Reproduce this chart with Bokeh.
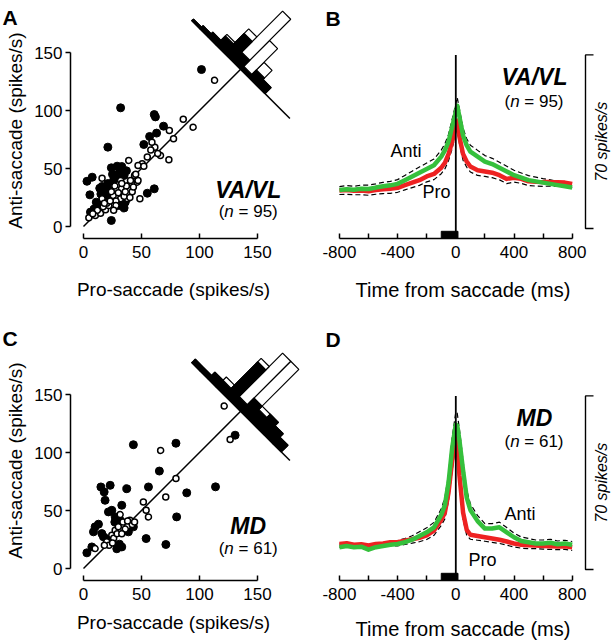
import numpy as np
from bokeh.plotting import figure
from bokeh.layouts import row, column
from bokeh.models import Range1d, Label, FixedTicker
from bokeh.embed import file_html
from bokeh.resources import INLINE

FONT = "Liberation Sans"
GREEN = "#35c03c"
RED = "#ee2222"

# ---------------- data ----------------
rate_ticks = [0, 50, 100, 150]
time_major_ticks = [-800, -400, 0, 400, 800]
time_minor_ticks = [-600, -200, 200, 600]
time_tick_text = {-800: "-800", -400: "-400", 0: "0", 400: "400", 800: "800"}

# scatter, VA/VL (filled = significant, open = not significant)
vavl_filled_pro = [101.7, 61, 62, 69, 63, 57, 52, 32, 21, 3, 7.5, 5.5, 24, 24, 33, 35, 31, 16, 20, 19, 23,
                   17, 21, 14, 9, 13, 6, 32, 36, 35, 29, 55, 61, 26, 29, 18, 11, 25, 22, 30, 37, 15]
vavl_filled_anti = [135.3, 96.5, 94.5, 86.5, 80.5, 77.6, 70.7, 102.3, 68.4, 39, 42.5, 27.3, 5.2, 50.6, 51.7,
                    44, 47, 34.5, 34, 29.6, 31, 30, 37, 33, 15, 18, 12.4, 18, 21, 16, 18, 28.7, 32.5, 40, 52,
                    26, 21, 45, 28, 44, 48, 28]
vavl_open_pro = [113, 94.5, 86, 77.6, 74, 61.5, 59, 66.4, 73.6, 46.3, 50.6, 40.5, 39, 47, 16, 32, 47, 32.8,
                 25.6, 32, 38, 48.6, 4.6, 10.3, 14.7, 19, 21.8, 16, 28, 35, 42, 27, 37, 44, 20, 12, 17, 8, 30,
                 24, 40, 55, 58, 64, 45, 52, 28, 36, 23, 18, 33, 43, 26]
vavl_open_anti = [126, 85.6, 92.5, 75.6, 82.8, 68.4, 72.7, 61.2, 57.5, 38.2, 54, 39.7, 57, 52.6, 41.7, 39.7,
                  39.7, 32.5, 26.7, 23.9, 23.9, 23.9, 7.5, 9.5, 11.5, 14.4, 18, 24, 22, 26, 30, 35, 35, 44, 20,
                  14, 17, 11, 29, 30, 25, 60, 66, 63, 45, 52, 18, 30, 22, 20, 37, 34, 14]

# scatter, MD
md_filled_pro = [43, 79.7, 65.4, 15, 17.8, 23, 37.3, 56, 18.6, 21.5, 24.4, 33, 80.3, 54, 71, 2.9, 7.2, 10,
                 12.9, 8.6, 15.8, 17.2, 19.5, 27.3, 31.6, 28.7, 33, 38.7, 43, 130.7, 113.8, 89, 31, 27]
md_filled_anti = [106.7, 108, 84, 70.3, 66, 71.7, 68.8, 70.3, 58.8, 48.8, 50.2, 54.5, 44.5, 25.8, 20.7, 13.5,
                  18.6, 35.9, 38.2, 31.6, 30.1, 27.3, 25.8, 44.5, 41.6, 17, 18.6, 31.6, 35.9, 114.9, 70.4,
                  65.2, 21, 40]
md_open_pro = [121.3, 126.4, 66.5, 79.7, 70.9, 51.6, 54, 56, 10, 20, 24.4, 27.3, 31.6, 40, 30, 37.9, 22, 26,
               34, 29, 36, 42, 33, 25, 18, 38, 44]
md_open_anti = [140, 111.2, 101.8, 77.5, 61.7, 57.4, 50.2, 44.5, 17.2, 23, 28.7, 33, 46.5, 41.6, 35.9, 36.4,
                20, 26, 40, 30, 34, 38, 30, 22, 20, 41, 40]

# histograms of (anti - pro), spikes/s
diff_bin_edges = [-84, -70, -56, -42, -28, -14, 0, 14, 28, 42, 56, 70, 84]
vavl_hist_all = [0, 0, 0, 4, 10, 19, 33, 16, 7, 3, 2, 1]
vavl_hist_sig = [0, 0, 0, 4, 5, 2, 6, 13, 6, 3, 2, 1]
md_hist_all = [0, 2, 3, 4, 4, 15, 15, 11, 3, 2, 1, 1]
md_hist_sig = [0, 2, 3, 4, 3, 4, 2, 10, 2, 2, 1, 1]

# population activity around saccade (spikes/s)
times = [-800, -750, -700, -650, -600, -550, -500, -450, -400, -350, -300, -250, -200, -150, -100, -75,
         -50, -25, 0, 10, 25, 50, 75, 100, 150, 200, 250, 300, 350, 400, 450, 500, 550, 600, 650, 700,
         750, 800]
vavl_anti = [15.5, 15.8, 15.6, 16.0, 15.9, 16.5, 17.0, 17.4, 18.0, 19.5, 21.0, 22.5, 24.0, 25.5, 29.0, 31.5,
             35.0, 41.0, 47.0, 49.5, 45.0, 37.5, 33.5, 31.0, 29.0, 27.0, 26.0, 24.5, 23.0, 21.5, 20.5, 19.5,
             19.0, 18.5, 18.0, 17.5, 17.0, 16.5]
vavl_pro = [15.3, 15.5, 15.2, 15.3, 15.0, 15.5, 15.8, 16.0, 16.4, 17.5, 18.5, 19.5, 21.0, 22.0, 24.5, 26.5,
            30.0, 35.0, 42.0, 43.5, 37.0, 30.0, 27.0, 25.0, 23.5, 23.0, 22.5, 21.5, 20.0, 20.5, 20.0, 19.0,
            18.8, 18.7, 18.7, 18.6, 18.5, 18.0]
vavl_anti_sem = [1.4, 1.5, 1.4, 1.5, 1.6, 1.5, 1.6, 1.6, 1.7, 1.9, 2.1, 2.3, 2.4, 2.5, 2.6, 2.7, 2.9, 3.1,
                 3.3, 3.3, 3.1, 2.9, 2.7, 2.6, 2.5, 2.4, 2.3, 2.2, 2.1, 2.0, 1.9, 1.8, 1.7, 1.6, 1.6, 1.5,
                 1.5, 1.4]
vavl_pro_sem = [1.6, 1.7, 1.6, 1.7, 1.6, 1.7, 1.7, 1.8, 1.8, 1.9, 2.0, 2.1, 2.2, 2.3, 2.4, 2.5, 2.6, 2.8,
                3.0, 3.0, 2.8, 2.5, 2.3, 2.2, 2.1, 2.0, 2.0, 1.9, 1.9, 1.8, 1.8, 1.7, 1.7, 1.7, 1.6, 1.6,
                1.6, 1.5]
md_anti = [9.0, 9.5, 9.0, 9.2, 8.0, 9.0, 9.5, 10.0, 10.3, 11.0, 12.0, 13.5, 15.0, 17.0, 22.0, 26.0, 35.0,
           49.0, 58.5, 58.0, 52.0, 40.0, 29.0, 24.0, 19.5, 16.5, 16.5, 17.0, 15.0, 13.0, 11.5, 11.0, 10.5,
           10.5, 10.8, 10.2, 10.5, 10.0]
md_pro = [10.3, 10.6, 10.0, 10.2, 9.7, 10.3, 10.5, 11.0, 11.0, 11.6, 12.2, 12.8, 13.8, 15.7, 20.0, 23.0,
          31.0, 44.0, 55.5, 52.0, 38.0, 23.0, 16.0, 14.0, 13.5, 13.0, 12.5, 12.0, 11.3, 10.5, 10.0, 9.8, 9.7,
          9.5, 9.4, 9.3, 9.4, 9.0]
md_anti_sem = [1.2, 1.3, 1.2, 1.3, 1.2, 1.3, 1.3, 1.4, 1.4, 1.5, 1.6, 1.7, 1.8, 2.0, 2.5, 3.0, 3.5, 4.2, 5.0,
               5.0, 4.5, 3.8, 3.0, 2.5, 2.2, 2.0, 2.0, 2.1, 1.9, 1.7, 1.6, 1.5, 1.4, 1.4, 1.4, 1.3, 1.3, 1.3]
md_pro_sem = [1.3, 1.3, 1.3, 1.4, 1.3, 1.4, 1.4, 1.4, 1.5, 1.5, 1.6, 1.6, 1.7, 1.9, 2.2, 2.6, 3.2, 4.0, 4.8,
              4.6, 3.8, 2.8, 2.2, 1.8, 1.7, 1.6, 1.6, 1.5, 1.5, 1.4, 1.4, 1.4, 1.3, 1.3, 1.3, 1.3, 1.3, 1.3]
analysis_window = [-100, 15]
scale_bar_rate = 70

# ---------------- layout helpers (page pixels -> data) ----------------
SC_PX = 1.16     # px per spike/s, scatter panels
T_PX = 0.1455    # px per ms, time panels
R_PX = 2.48      # px per spike/s, time panels
S2 = np.sqrt(2.0)
LEFT_W, RIGHT_W, ROW_H = 305, 306, 320
TICK_FS = 17


def sx(px):
    return (px - 83) / SC_PX


def ay(py):
    return (226 - py) / SC_PX


def cy_(py):
    return (568 - py) / SC_PX


def tx(px):
    return (px - 455.3) / T_PX


def by(py):
    return (228 - py) / R_PX


def dy(py):
    return (569 - py) / R_PX


def style_axis(ax, ticks, minor, bounds, tick_in, tick_out, standoff, loc):
    ax.fixed_location = loc
    ax.ticker = FixedTicker(ticks=ticks, minor_ticks=minor)
    ax.bounds = bounds
    ax.major_tick_in = tick_in
    ax.major_tick_out = tick_out
    ax.minor_tick_in = tick_in
    ax.minor_tick_out = tick_out
    ax.axis_line_width = 1.5
    ax.axis_line_color = "black"
    ax.major_tick_line_width = 1.5
    ax.major_tick_line_color = "black"
    ax.minor_tick_line_width = 1.5
    ax.minor_tick_line_color = "black" if minor else None
    ax.major_label_text_font = FONT
    ax.major_label_text_font_size = f"{TICK_FS}px"
    ax.major_label_text_color = "black"
    ax.major_label_standoff = standoff
    ax.axis_label = None


def add_text(p, x, y, text, size, style="normal", align="left", baseline="middle", angle=0.0, x_offset=0):
    p.add_layout(Label(x=x, y=y, text=text, text_font=FONT, text_font_size=f"{size}px",
                       text_font_style=style, text_align=align, text_baseline=baseline,
                       text_color="black", angle=angle, x_offset=x_offset))


def n_label(p, x, y, n, size=17):
    w_open = 0.333 * size
    w_n = 0.556 * size
    w_sp = 0.278 * size
    rest = f"= {n})"
    w_rest = (0.584 + 0.278 + 0.556 * len(str(n)) + 0.333) * size
    x0 = -(w_open + w_n + w_sp + w_rest) / 2
    add_text(p, x, y, "(", size, x_offset=x0)
    add_text(p, x, y, "n", size, style="italic", x_offset=x0 + w_open)
    add_text(p, x, y, rest, size, x_offset=x0 + w_open + w_n + w_sp)


def base_fig(w, xr, yr, with_y):
    kw = dict(width=w, height=ROW_H, x_range=Range1d(*xr), y_range=Range1d(*yr),
              output_backend="svg", toolbar_location=None, min_border=0,
              min_border_left=0, min_border_right=0, min_border_top=0, min_border_bottom=0)
    if not with_y:
        kw["y_axis_location"] = None
    p = figure(**kw)
    p.xgrid.visible = False
    p.ygrid.visible = False
    p.outline_line_color = None
    return p


def scatter_panel(fpro, fanti, opro, oanti, h_all, h_sig, yconv, page_top, axis_py,
                  letter, letter_base, region, n, xlab_y, ylab_y):
    p = base_fig(LEFT_W, (sx(0), sx(LEFT_W)), (yconv(page_top + ROW_H), yconv(page_top)), True)
    style_axis(p.xaxis[0], rate_ticks, [], (0, 150), 5, 0, 7, yconv(axis_py))
    style_axis(p.yaxis[0], rate_ticks, [], (0, 150), 0, 5, 3, sx(70))

    cx, cy = 135.5, 135.5
    maxlen = 61.0
    k = maxlen / max(h_all)

    def bar(d0, d1, h):
        us = [d0 / S2, d1 / S2, d1 / S2, d0 / S2]
        vs = [0, 0, h, h]
        return ([cx + (-u + v) / S2 for u, v in zip(us, vs)],
                [cy + (u + v) / S2 for u, v in zip(us, vs)])

    wx, wy, bx, byy = [], [], [], []
    for i in range(len(h_all)):
        if h_all[i] > 0:
            xs, ys = bar(diff_bin_edges[i], diff_bin_edges[i + 1], h_all[i] * k)
            wx.append(xs); wy.append(ys)
        if h_sig[i] > 0:
            xs, ys = bar(diff_bin_edges[i], diff_bin_edges[i + 1], h_sig[i] * k)
            bx.append(xs); byy.append(ys)
    p.patches(wx, wy, fill_color="white", line_color="black", line_width=1.2)
    p.patches(bx, byy, fill_color="black", line_color="black", line_width=1.2)
    half = 60.0
    p.line([cx - half / S2, cx + half / S2], [cy + half / S2, cy - half / S2], line_color="black", line_width=1.5)
    p.line([0, cx], [0, cy], line_color="black", line_width=1.5)

    p.scatter(fpro, fanti, size=8, fill_color="black", line_color="black", line_width=1)
    p.scatter(opro, oanti, size=6, fill_color="white", line_color="black", line_width=1.5)

    add_text(p, 142, yconv(region[1]), region[0], 23, style="bold italic", align="center")
    n_label(p, 142, yconv(region[2]), n)
    add_text(p, sx(2), yconv(letter_base), letter, 21, style="bold", baseline="alphabetic")
    add_text(p, sx(173), yconv(xlab_y), "Pro-saccade (spikes/s)", 19, align="center")
    add_text(p, sx(15), yconv(ylab_y), "Anti-saccade (spikes/s)", 19, align="center", angle=np.pi / 2)
    return p


def time_panel(anti, pro, anti_sem, pro_sem, yconv, page_top, axis_py, letter, letter_base,
               region, n, anti_pos, pro_pos, xlab_y):
    p = base_fig(RIGHT_W, (tx(LEFT_W), tx(LEFT_W + RIGHT_W)), (yconv(page_top + ROW_H), yconv(page_top)), False)
    y_axis = yconv(axis_py)
    style_axis(p.xaxis[0], time_major_ticks, time_minor_ticks, (-800, 800), 5, 0, 7, y_axis)
    p.xaxis[0].major_label_overrides = time_tick_text

    upper = [a + s for a, s in zip(anti, anti_sem)]
    lower = [b - s for b, s in zip(pro, pro_sem)]
    p.line(times, upper, line_color="black", line_width=1.2, line_dash="5 3")
    p.line(times, lower, line_color="black", line_width=1.2, line_dash="5 3")
    p.line(times, pro, line_color=RED, line_width=4.5, line_join="round")
    p.line(times, anti, line_color=GREEN, line_width=4.5, line_join="round")
    p.segment(x0=[0], y0=[y_axis], x1=[0], y1=[scale_bar_rate], line_color="black", line_width=1.8)
    p.quad(left=[analysis_window[0]], right=[analysis_window[1]], bottom=[y_axis],
           top=[y_axis + 2.9], fill_color="black", line_color="black")
    # scale bar
    x0b, x1b = tx(585), tx(593)
    p.line([x1b, x0b, x0b, x1b], [0, 0, scale_bar_rate, scale_bar_rate], line_color="black", line_width=1.4)
    add_text(p, tx(601), scale_bar_rate / 2, f"{scale_bar_rate} spikes/s", 16, style="italic",
             align="center", angle=np.pi / 2)

    add_text(p, tx(534), yconv(region[1]), region[0], 23, style="bold italic", align="center")
    n_label(p, tx(533.5), yconv(region[2]), n)
    add_text(p, tx(anti_pos[0]), yconv(anti_pos[1]), "Anti", 18)
    add_text(p, tx(pro_pos[0]), yconv(pro_pos[1]), "Pro", 18)
    add_text(p, tx(325), yconv(letter_base), letter, 21, style="bold", baseline="alphabetic")
    add_text(p, tx(462.5), yconv(xlab_y), "Time from saccade (ms)", 20, align="center")
    return p


pA = scatter_panel(vavl_filled_pro, vavl_filled_anti, vavl_open_pro, vavl_open_anti,
                   vavl_hist_all, vavl_hist_sig, ay, 0, 238, "A", 17, ("VA/VL", 189, 211), 95, 289, 130)
pC = scatter_panel(md_filled_pro, md_filled_anti, md_open_pro, md_open_anti,
                   md_hist_all, md_hist_sig, cy_, 320, 580, "C", 338, ("MD", 525, 547.5), 61, 621.5, 460)
pB = time_panel(vavl_anti, vavl_pro, vavl_anti_sem, vavl_pro_sem, by, 0, 238, "B", 18,
                ("VA/VL", 76.5, 100.5), 95, (390, 150), (422, 191), 289)
pD = time_panel(md_anti, md_pro, md_anti_sem, md_pro_sem, dy, 320, 580, "D", 339,
                ("MD", 417.5, 440.5), 61, (504, 513), (468, 559), 628)

layout = column(row(pA, pB), row(pC, pD))
open("out.html", "w").write(file_html(layout, INLINE))
